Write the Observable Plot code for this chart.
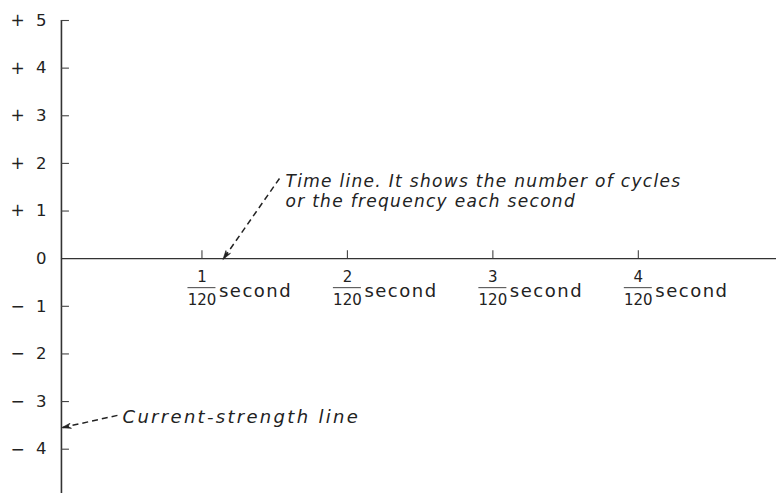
<!DOCTYPE html>
<html>
<head>
<meta charset="utf-8">
<script src="https://cdn.jsdelivr.net/npm/d3@7"></script>
<script src="https://cdn.jsdelivr.net/npm/@observablehq/plot@0.6"></script>
<style>
  html, body { margin: 0; padding: 0; background: #fff; }
  svg marker { overflow: visible; }
  svg marker path { stroke-dasharray: none; fill: #222; }
</style>
</head>
<body>
<div id="chart"></div>
<script>
// ---- data ----
const strengthValues = [5, 4, 3, 2, 1, 0, -1, -2, -3, -4];
const strengthSigns  = ["+", "+", "+", "+", "+", "", "\u2212", "\u2212", "\u2212", "\u2212"];
const strengthDigits = ["5", "4", "3", "2", "1", "0", "1", "2", "3", "4"];
const timeTicks      = [1, 2, 3, 4];          // multiples of 1/120 second
const timeNumerators = ["1", "2", "3", "4"];
const timeDenominator = "120";
const timeUnit = "second";
const yDomain = [-4.93, 5];
const xDomain = [0, 4.95];
const currentLineAt = 0.034;                  // where the current-strength line crosses the time line
const noteTexts = [
  "Time line. It shows the number of cycles\nor the frequency each second",
  "Current-strength line"
];
const noteX  = [1.574, 0.454];
const noteY  = [1.43, -3.31];
const noteSize = [17, 18];
const noteSpacing = ["1.3px", "2.3px"];
const arrowFromX = [1.533, 0.419];
const arrowFromY = [1.684, -3.29];
const arrowToX   = [1.148, 0.043];
const arrowToY   = [0.0, -3.545];

// ---- layout ----
const W = 776, H = 493;
const xRange = [56, 776];
const mTop = 20;
const kx = (xRange[1] - xRange[0]) / (xDomain[1] - xDomain[0]);
const ky = (H - mTop) / (yDomain[1] - yDomain[0]);
const yTickLen = 8 / kx;
const xTickLen = 8 / ky;
const fracHalf = 14 / kx;
const ink = "#222";

const notes = noteTexts.map((t, i) => ({
  text: t, x: noteX[i], y: noteY[i], size: noteSize[i], ls: noteSpacing[i],
  x1: arrowFromX[i], y1: arrowFromY[i], x2: arrowToX[i], y2: arrowToY[i]
}));
const yRows = strengthValues.map((v, i) => ({v, sign: strengthSigns[i], digit: strengthDigits[i]}));
const xRows = timeTicks.map((t, i) => ({t, num: timeNumerators[i]}));

const chart = Plot.plot({
  width: W,
  height: H,
  marginTop: mTop,
  marginBottom: 0,
  marginLeft: 0,
  marginRight: 0,
  x: {domain: xDomain, range: xRange, axis: null},
  y: {domain: yDomain, axis: null},
  style: {fontFamily: "DejaVu Sans", background: "#fff", color: ink},
  marks: [
    // current-strength line (vertical axis)
    Plot.ruleX([currentLineAt], {stroke: "#333", strokeWidth: 1.6}),
    // its ticks
    Plot.ruleY(yRows.filter(d => d.v !== 0), {y: "v", x1: currentLineAt, x2: currentLineAt + yTickLen, stroke: "#444", strokeWidth: 1.1}),
    // time line
    Plot.ruleY([0], {x1: currentLineAt, x2: xDomain[1], stroke: "#333", strokeWidth: 1.3}),
    Plot.ruleX(xRows, {x: "t", y1: 0, y2: xTickLen, stroke: "#444", strokeWidth: 1.1}),
    // y labels
    Plot.text(yRows, {x: currentLineAt, y: "v", text: "sign", dx: -51, textAnchor: "start", fontSize: 17, fill: ink}),
    Plot.text(yRows, {x: currentLineAt, y: "v", text: "digit", dx: -15, textAnchor: "end", fontSize: 16.5, fill: ink}),
    // x labels: fractions
    Plot.text(xRows, {x: "t", y: 0, text: "num", dy: 19, fontSize: 15, fill: ink}),
    Plot.ruleY(xRows, {y: 0, x1: d => d.t - fracHalf, x2: d => d.t + fracHalf, dy: 29, stroke: "#444", strokeWidth: 1}),
    Plot.text(xRows, {x: "t", y: 0, text: () => timeDenominator, dy: 42, fontSize: 15, fill: ink}),
    Plot.text(xRows, {x: "t", y: 0, text: () => timeUnit, dx: 17, dy: 33, textAnchor: "start", fontSize: 18, fill: ink, className: "unit"}),
    // annotations
    Plot.link(notes, {x1: "x1", y1: "y1", x2: "x2", y2: "y2", stroke: ink, strokeWidth: 1.5, strokeDasharray: "6,4", markerEnd: "arrow"}),
    Plot.text(notes, {x: "x", y: "y", text: "text", textAnchor: "start", lineAnchor: "middle", lineHeight: 1.18, fontSize: "size", fontStyle: "italic", fill: ink, className: "note"})
  ]
});
document.getElementById("chart").appendChild(chart);
// lettering-style spacing
chart.querySelectorAll(".unit text").forEach(t => { t.style.letterSpacing = "1.5px"; });
chart.querySelectorAll(".note text").forEach((t, i) => { t.style.letterSpacing = notes[i] ? notes[i].ls : "1.3px"; });
// solid dart-shaped arrowheads
chart.querySelectorAll("marker path").forEach(p => { p.setAttribute("d", "M-8,-2.6L1,0L-8,2.6L-5.5,0Z"); p.setAttribute("stroke-width", "0.6"); });
</script>
</body>
</html>
